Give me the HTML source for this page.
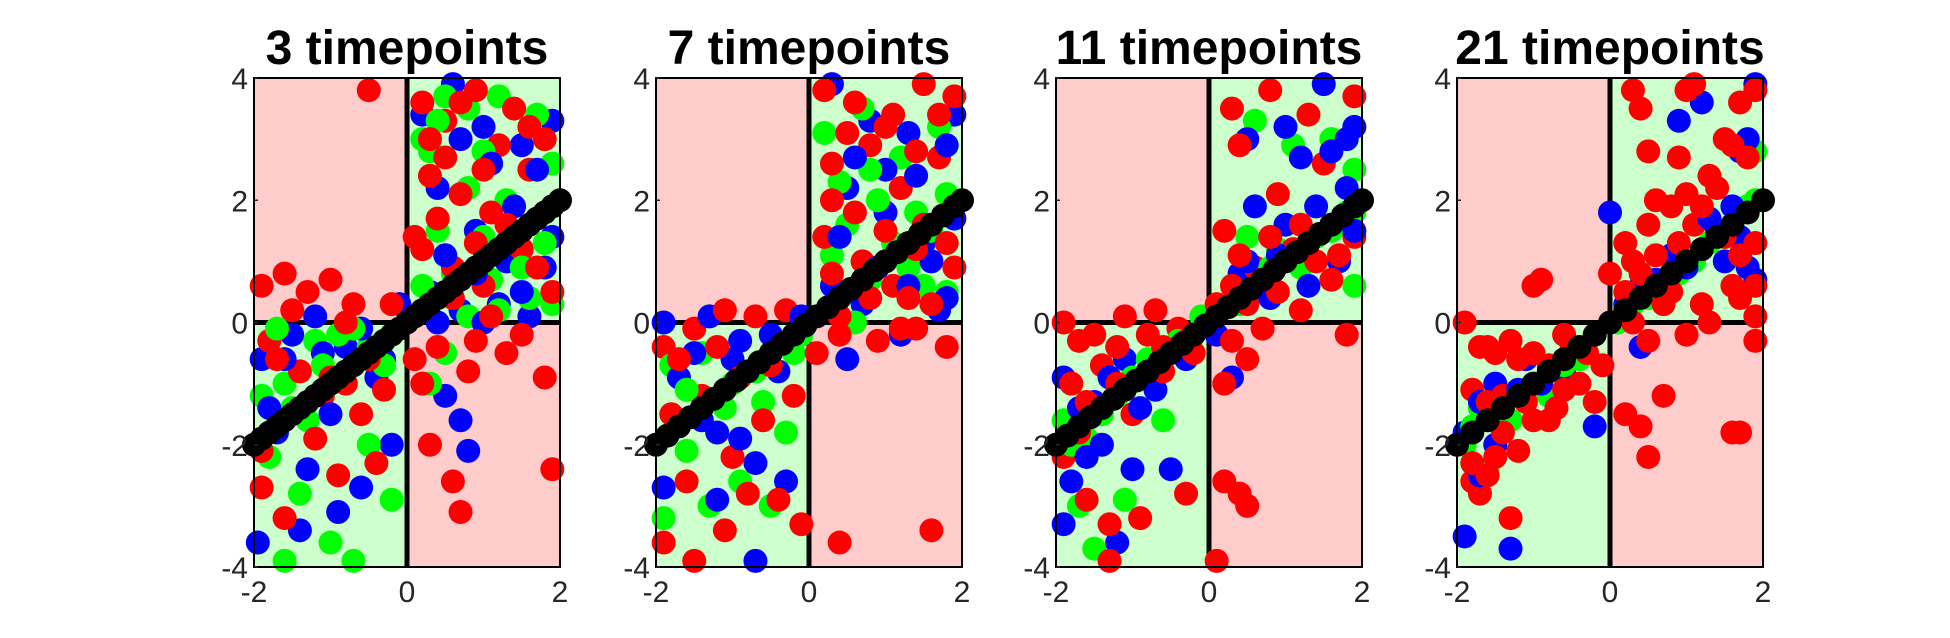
<!DOCTYPE html>
<html><head><meta charset="utf-8"><style>
html,body{margin:0;padding:0;background:#fff;}
svg{display:block;font-family:"Liberation Sans",sans-serif;}
</style></head><body>
<svg id="chart" width="1950" height="638" viewBox="0 0 1950 638"></svg>
<script>
const titles=["3 timepoints","7 timepoints","11 timepoints","21 timepoints"];
const yTicks=[-4,-2,0,2,4];
const xTicks=[-2,0,2];
const redPts=[
[-1.9,0.6,-1.6,0.8,-1.3,0.5,-1,0.7,-0.7,0.3,-1.8,-0.3,-1.4,-0.8,-1.1,-1.2,-0.6,-1.5,-0.3,-1.1,-1.9,-2.7,-1.6,-3.2,-0.9,-2.5,-0.4,-2.3,-1.2,-1.9,0.2,3.6,0.5,3.3,0.9,3.8,1.4,3.5,1.8,3.0,0.3,2.4,0.7,2.1,1.1,1.8,1.6,2.5,0.2,1.2,0.6,0.9,1.0,0.6,1.5,1.2,1.9,0.5,0.4,-0.4,0.8,-0.8,1.3,-0.5,1.8,-0.9,0.3,-2.0,0.6,-2.6,0.7,-3.1,1.9,-2.4,-0.5,3.8,0.1,-0.6,1.2,2.9,
 -1.5,0.2,-0.8,0.0,-0.2,0.3,-1.7,-0.6,-0.5,-0.6,-1.0,-0.9,0.1,1.4,0.4,1.7,0.9,1.3,1.3,1.6,1.7,0.9,0.2,0.2,0.6,0.4,1.1,0.1,1.5,-0.2,0.9,-0.3,0.3,3.0,0.7,3.6,1.6,3.2,1.0,2.5,0.5,2.7,1.9,1.9,0.2,-1.0,-1.9,-2.1,-0.8,-1.0],
[-1.9,-0.4,-1.5,-0.1,-1.1,0.2,-0.7,0.1,-0.3,0.2,-1.8,-1.5,-1.4,-1.2,-1.0,-2.2,-0.6,-1.6,-1.9,-3.6,-1.5,-3.9,-1.1,-3.4,-0.4,-2.9,-0.1,-3.3,0.4,-3.6,1.6,-3.4,0.2,3.8,0.6,3.6,1.1,3.4,1.5,3.9,1.9,3.7,0.3,2.6,0.8,2.9,1.2,2.2,1.7,2.7,0.2,1.4,0.7,1.0,1.1,0.6,1.5,1.6,1.9,0.9,0.4,0.1,0.9,-0.3,1.4,-0.1,1.8,-0.4,0.1,-0.5,-0.5,-0.7,1.3,0.4,
 -1.7,-0.6,-1.2,-0.4,-0.9,-0.9,-0.2,-1.2,-1.6,-2.6,-0.8,-2.8,0.3,2.0,0.6,1.8,1.0,1.5,1.4,1.2,1.8,1.3,0.3,0.8,0.8,0.4,1.2,-0.1,1.6,0.3,0.5,3.1,1.0,3.2,1.4,2.8,0.4,-0.2,1.7,3.4],
[-1.9,0.0,-1.5,-0.2,-1.1,0.1,-0.7,0.2,-0.4,-0.1,-1.8,-1.0,-1.4,-0.7,-1.0,-1.5,-0.6,-0.8,-1.9,-2.2,-1.6,-2.9,-1.3,-3.3,-0.9,-3.2,-1.3,-3.9,-0.3,-2.8,0.2,-2.6,0.4,-2.8,0.1,-3.9,0.5,-3.0,0.3,3.5,0.8,3.8,1.3,3.4,1.9,3.7,0.4,2.9,0.9,2.1,1.5,2.6,0.2,1.5,0.6,0.9,1.1,1.2,1.6,0.7,1.9,1.4,0.3,-0.3,0.7,-0.1,1.2,0.2,1.8,-0.2,-0.2,-0.5,0.1,0.3,
 -1.7,-0.3,-1.2,-0.4,-0.8,-0.2,-1.6,-1.3,-1.2,-1.0,-0.3,-0.3,-1.7,-1.8,0.3,0.6,0.5,0.3,0.9,0.5,1.4,1.0,1.7,1.1,0.4,1.1,0.8,1.4,1.2,1.6,0.5,-0.6,0.2,-1.0,-0.6,-0.4],
[-1.9,0.0,-1.6,-0.4,-1.3,-0.3,-1.0,-0.5,-0.6,-0.2,-0.3,-0.5,-1.8,-1.1,-1.4,-1.2,-1.0,-1.6,-0.7,-1.4,-0.4,-1.0,-1.8,-2.6,-1.7,-2.8,-1.5,-2.2,-1.2,-2.1,-1.3,-3.2,-0.8,-1.6,-1.0,0.6,-0.9,0.7,0.3,3.8,0.4,3.5,1.0,3.8,1.1,3.9,1.7,3.6,1.9,3.8,0.5,2.8,0.9,2.7,1.5,3.0,0.6,2.0,0.8,1.9,1.1,1.6,1.4,2.2,1.9,1.3,0.2,1.3,0.0,0.8,0.4,0.8,0.8,0.5,1.2,0.3,1.6,0.6,1.9,0.1,0.5,-0.3,1.0,-0.2,1.9,-0.3,0.2,-1.5,0.4,-1.7,0.7,-1.2,1.7,-1.8,1.6,-1.8,0.5,-2.2,-0.2,-1.3,
 -1.7,-0.4,-1.5,-0.5,-1.2,-0.6,-0.8,-0.7,-0.5,-0.4,-1.6,-1.3,-1.1,-1.3,-0.6,-1.1,-1.8,-2.3,-1.6,-2.5,-1.4,-1.8,0.3,1.0,0.6,1.1,0.9,1.3,1.2,1.9,1.5,1.4,1.7,1.1,1.8,2.7,1.6,2.9,0.7,0.3,1.3,0.0,1.7,0.4,1.9,0.6,0.2,0.5,0.5,1.6,1.0,2.1,1.3,2.4,0.3,0.0,-0.1,-0.7],
];
const bluePts=[
[-1.9,-0.6,-1.5,-0.2,-1.2,0.1,-0.8,-0.4,-0.4,-0.9,-1.7,-1.8,-1.3,-2.4,-0.9,-3.1,-0.6,-2.7,-1.95,-3.6,-1.4,-3.4,-0.2,-2.0,0.2,3.4,0.6,3.9,1.0,3.2,1.5,2.9,1.9,3.3,0.4,2.2,0.9,1.5,1.3,1.0,1.7,1.7,0.3,0.5,0.7,0.2,1.2,0.3,1.6,0.1,0.5,-1.2,0.7,-1.6,0.8,-2.1,-0.1,0.3,1.9,1.4,
 -1.6,-0.6,-1.1,-0.5,-0.6,-0.1,-0.3,-0.6,-1.8,-1.4,-1.0,-1.5,0.5,1.1,0.9,0.8,1.4,1.9,1.8,0.9,0.4,0.0,1.0,0.0,1.5,0.5,1.1,2.6,0.7,3.0,1.7,2.5],
[-1.9,0.0,-1.3,0.1,-0.9,-0.3,-0.4,-0.8,-1.7,-0.9,-1.2,-1.8,-0.7,-2.3,-0.3,-2.6,-1.9,-2.7,-1.2,-2.9,-0.7,-3.9,0.3,3.9,0.8,3.3,1.3,3.1,1.9,3.4,0.5,2.2,1.0,1.8,1.5,1.3,1.9,1.7,0.3,0.6,0.7,0.3,1.2,-0.2,1.7,0.2,0.5,-0.6,-0.1,0.1,1.0,2.5,
 -1.5,-0.5,-1.0,-0.6,-0.5,-0.2,-1.4,-1.6,-0.9,-1.9,0.4,1.4,0.9,0.9,1.3,0.6,1.6,1.0,1.8,0.4,0.6,2.7,1.4,2.4,1.8,2.9],
[-1.9,-0.9,-1.5,-1.3,-1.1,-0.6,-0.7,-1.1,-0.3,-0.6,-1.8,-2.6,-1.4,-2.0,-1.0,-2.4,-0.5,-2.4,-1.9,-3.3,-1.2,-3.6,0.5,3.0,1.0,3.2,1.5,3.9,1.9,3.2,0.6,1.9,1.0,1.6,1.4,1.9,1.8,2.2,0.4,0.8,0.8,0.4,1.3,0.6,1.7,1.0,0.3,-0.9,0.1,-0.2,
 -1.7,-1.4,-1.3,-0.9,-0.9,-1.4,-1.6,-2.2,0.5,1.0,0.9,1.1,1.3,1.3,1.6,1.6,1.9,1.5,1.2,2.7,1.6,2.8,0.7,0.6,1.8,3.0],
[-1.9,-1.8,-1.5,-1.0,-1.1,-0.6,-0.6,-0.8,-0.2,-1.7,-1.9,-3.5,-1.3,-3.7,-1.5,-2.0,0.0,1.8,0.4,0.6,0.8,1.1,1.2,3.6,1.4,1.5,1.7,2.8,1.9,3.9,1.8,0.9,0.4,-0.4,0.9,3.3,1.6,1.9,
 -1.7,-1.3,-1.2,-1.1,-0.9,-1.0,-1.7,-2.5,0.2,0.3,0.6,0.7,1.0,0.9,1.5,1.0,1.7,1.4,1.9,0.7,1.8,3.0,1.3,1.7]
];
const greenPts=[
[-1.9,-1.2,-1.6,-1.0,-1.2,-0.3,-0.9,-0.2,-0.5,-0.4,-1.8,-2.2,-1.3,-1.6,-1.0,-3.6,-0.7,-3.9,-0.2,-2.9,-1.6,-3.9,-0.5,-2.0,0.2,3.0,0.5,3.7,0.8,3.5,1.2,3.7,1.7,3.4,0.3,2.8,0.8,2.2,1.3,2.0,1.9,2.6,0.2,0.6,0.6,0.8,1.1,0.7,1.6,0.4,0.5,-0.5,0.3,-1.0,1.9,0.3,-1.4,-2.8,1.4,1.4,
 -1.7,-0.1,-1.1,-0.7,-0.7,-0.1,-1.5,-1.4,-0.3,-0.7,0.4,1.5,1.0,1.4,1.5,0.9,1.8,1.3,0.8,0.1,1.2,0.2,0.4,3.3,1.0,2.8],
[-1.8,-0.7,-1.4,-0.5,-1.0,-1.0,-0.6,-1.3,-0.2,-0.5,-1.6,-2.1,-1.3,-3.0,-0.9,-2.6,-1.9,-3.2,-0.5,-3.0,-0.3,-1.8,0.2,3.1,0.7,3.5,1.2,2.7,1.7,3.2,0.4,2.3,0.9,2.0,1.4,1.8,1.8,2.1,0.3,1.1,0.8,0.7,1.3,0.9,1.8,0.5,0.6,0.0,1.1,1.3,-0.1,-0.2,
 -1.6,-1.1,-1.1,-1.4,-0.7,-0.8,0.5,1.6,1.0,1.0,1.5,0.6,1.6,1.5,0.8,2.5],
[-1.9,-1.6,-1.6,-1.9,-1.2,-1.2,-0.8,-0.6,-0.4,-0.3,-1.7,-3.0,-1.5,-3.7,-1.1,-2.9,-0.6,-1.6,0.6,3.3,1.1,2.9,1.6,3.0,1.9,2.5,0.5,1.4,0.9,1.2,1.4,1.4,1.8,1.8,0.3,0.4,0.7,0.7,1.2,0.9,1.9,0.6,-0.1,0.1,
 -1.8,-2.0,-1.4,-1.5,-1.0,-0.9,-0.6,-0.5,0.4,0.3,0.8,0.9,1.2,1.1,1.6,1.5,1.9,1.8],
[-1.9,-2.0,-1.7,-1.4,-1.3,-1.6,-0.8,-1.2,-0.4,-0.6,-1.6,-2.4,0.5,0.4,0.9,0.8,1.3,1.3,1.8,1.9,0.1,0.0,1.9,2.8,1.6,1.6,
 -1.8,-1.7,-1.5,-1.5,-1.1,-1.1,-0.6,-0.7,0.3,0.3,0.7,0.6,1.1,1.0,1.5,1.4,1.9,2.0]
];
const blackX=[
[-2,-1.9,-1.8,-1.7,-1.6,-1.5,-1.4,-1.3,-1.2,-1.1,-1,-0.9,-0.8,-0.7,-0.6,-0.5,-0.4,-0.3,-0.2,-0.1,0,0.1,0.2,0.3,0.4,0.5,0.6,0.7,0.8,0.9,1,1.1,1.2,1.3,1.4,1.5,1.6,1.7,1.8,1.9,2],
[-2,-1.85,-1.7,-1.55,-1.4,-1.25,-1.1,-0.95,-0.8,-0.65,-0.5,-0.35,-0.2,-0.05,0.1,0.25,0.4,0.55,0.7,0.85,1,1.15,1.3,1.45,1.6,1.75,1.9,2],
[-2,-1.85,-1.7,-1.55,-1.4,-1.25,-1.1,-0.95,-0.8,-0.65,-0.5,-0.35,-0.2,-0.05,0.1,0.25,0.4,0.55,0.7,0.85,1,1.15,1.3,1.45,1.6,1.75,1.9,2],
[-2,-1.8,-1.6,-1.4,-1.2,-1.0,-0.8,-0.6,-0.4,-0.2,0,0.2,0.4,0.6,0.8,1.0,1.2,1.4,1.6,1.8,2]
];
const blackY=blackX.map(a=>a.slice());

const NS="http://www.w3.org/2000/svg";
const svg=document.getElementById('chart');
function mk(tag,attrs,parent){const e=document.createElementNS(NS,tag);for(const k in attrs)e.setAttribute(k,attrs[k]);(parent||svg).appendChild(e);return e;}
const lefts=[254,656,1056,1457], W=306, TOP=78, H=489;
for(let p=0;p<4;p++){
  const L=lefts[p];
  const xs=v=>L+(v+2)/4*W;
  const ys=v=>TOP+(4-v)/8*H;
  const g=mk('g',{});
  
  
  const q=[[-2,4,0,0,'#ffcccc','quadrant-upper-left'],[0,4,2,0,'#ccffcc','quadrant-upper-right'],[-2,0,0,-4,'#ccffcc','quadrant-lower-left'],[0,0,2,-4,'#ffcccc','quadrant-lower-right']];
  q.forEach(r=>{const e=mk('rect',{x:xs(r[0]),y:ys(r[1]),width:xs(r[2])-xs(r[0]),height:ys(r[3])-ys(r[1]),fill:r[4]},g);
    
    });
  const vz=mk('line',{x1:xs(0),x2:xs(0),y1:TOP,y2:TOP+H,stroke:'#000','stroke-width':5},g);
  
  
  const hz=mk('line',{x1:L,x2:L+W,y1:ys(0),y2:ys(0),stroke:'#000','stroke-width':5},g);
  
  
  const pg=mk('g',{},g);
  
  
  const series=[[redPts[p],'#ff0000','red'],[bluePts[p],'#0000ff','blue'],[greenPts[p],'#00ff00','green']];
  const maxN=Math.max(...series.map(s=>s[0].length/2));
  for(let i=0;i<maxN;i++){
    series.forEach(s=>{
      if(2*i+1<s[0].length){
        const c=mk('circle',{cx:xs(s[0][2*i]),cy:ys(s[0][2*i+1]),r:12,fill:s[1]},pg);
        
        
      }
    });
  }
  blackX[p].forEach((x,i)=>{
    const c=mk('circle',{cx:xs(x),cy:ys(blackY[p][i]),r:12,fill:'#000'},pg);
    
    
  });
  const fr=mk('rect',{x:L,y:TOP,width:W,height:H,fill:'none',stroke:'#000','stroke-width':2},g);
  
  
  yTicks.forEach(t=>{
    mk('line',{x1:L,x2:L+4,y1:ys(t),y2:ys(t),stroke:'#262626','stroke-width':1.5},g);
    const tx=mk('text',{x:L-6,y:ys(t)+11,'text-anchor':'end','font-size':30,fill:'#262626'},g);
    tx.textContent=t;
    
    
  });
  xTicks.forEach(t=>{
    const tx=mk('text',{x:xs(t),y:TOP+H+35,'text-anchor':'middle','font-size':30,fill:'#262626'},g);
    tx.textContent=t;
    
    
  });
  const ti=mk('text',{x:L+W/2,y:64,'text-anchor':'middle','font-size':48,'font-weight':'bold',fill:'#000'},g);
  ti.textContent=titles[p];
  
  
}
</script>
</body></html>
